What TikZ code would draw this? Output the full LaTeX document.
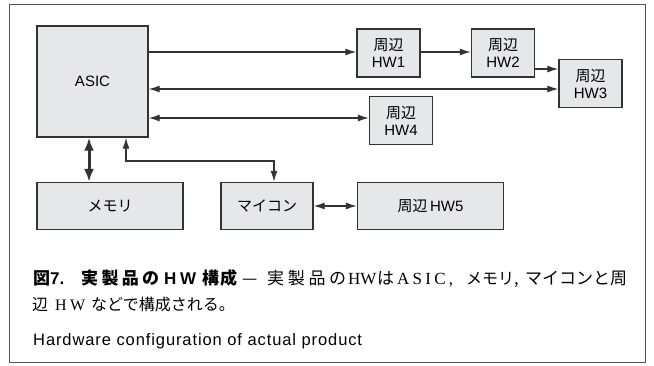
\documentclass[tikz,border=0pt]{standalone}
\usepackage{fontspec}
\setmainfont{Liberation Sans}
\setsansfont{Liberation Sans}
\newfontfamily\jp{Noto Sans CJK JP}
\newfontfamily\lserif{Liberation Serif}
\newfontfamily\engcap[LetterSpace=5.5]{Liberation Sans}
\usetikzlibrary{arrows.meta}
\definecolor{boxfill}{HTML}{E6E7E8}
\definecolor{boxline}{HTML}{333333}
\definecolor{framecol}{HTML}{555555}
\newcommand{\spr}[2]{\makebox[#1pt][s]{#2}}
\begin{document}
\begin{tikzpicture}[x=1pt,y=-1pt,
  blk/.style={draw=boxline,fill=boxfill,line width=1.3pt,inner sep=0pt,align=center,
    font=\fontsize{15}{17}\selectfont},
  conn/.style={draw=boxline,line width=1.2pt},
  tip/.style={-{Latex[length=11pt,width=7pt]}},
  tips/.style={{Latex[length=11pt,width=7pt]}-{Latex[length=11pt,width=7pt]}},
  capseg/.style={anchor=base west,inner sep=0pt,font=\fontsize{17}{19}\selectfont},
  capsegb/.style={anchor=base west,inner sep=0pt,font=\fontsize{16}{18}\selectfont}]
\useasboundingbox (0,0) rectangle (654,365);
\draw[draw=framecol,line width=1pt] (9,4) rectangle (645,362);
% boxes
\node[blk,minimum width=111pt,minimum height=111pt] (asic) at (92.5,81.5) {ASIC};
\node[blk,minimum width=63pt,minimum height=48pt] (hw1) at (388.5,53) {{\jp 周辺}\\HW1};
\node[blk,minimum width=63pt,minimum height=48pt] (hw2) at (503,53) {{\jp 周辺}\\HW2};
\node[blk,minimum width=63pt,minimum height=48pt] (hw3) at (590.5,83.5) {{\jp 周辺}\\HW3};
\node[blk,minimum width=63pt,minimum height=48pt] (hw4) at (401,120.5) {{\jp 周辺}\\HW4};
\node[blk,minimum width=146pt,minimum height=47pt] (mem) at (110,206) {\jp メモリ};
\node[blk,minimum width=92pt,minimum height=47pt] (mic) at (267,206) {\jp マイコン};
\node[blk,minimum width=146pt,minimum height=47pt] (hw5) at (430.5,206) {{\jp 周辺}\,HW5};
% connectors
\coordinate (a1) at (asic.east |- 0,52);
\coordinate (a2) at (asic.east |- 0,89);
\coordinate (a3) at (asic.east |- 0,118);
\draw[conn,tip] (a1) -- (a1 -| hw1.west);
\draw[conn,tip] (hw1.east |- 0,52) -- (hw2.west |- 0,52);
\draw[conn,tip] (hw2.east |- 0,69) -- (hw3.west |- 0,69);
\draw[conn,tips] (a2) -- (a2 -| hw3.west);
\draw[conn,tips] (a3) -- (a3 -| hw4.west);
\coordinate (a4) at (asic.south -| 126,0);
\coordinate (a5) at (asic.south -| 89,0);
\coordinate (m4) at (mic.north -| 274,0);
\draw[conn,tips] (a4) -- (126,161) -- (274,161) -- (m4);
\draw[draw=boxline,line width=3pt,{Latex[length=13pt,width=10pt]}-{Latex[length=13pt,width=10pt]}] (a5) -- (a5 |- mem.north);
\draw[conn,tips] (mic.east) -- (hw5.west);
% caption line 1
\node[capseg] (c1) at (33,284) {\jp\bfseries 図};
\node[capseg] (c2) at (50,284) {\bfseries 7.};
\node[capseg] (c3) at (81,284) {\spr{78}{\jp\bfseries 実\hfill 製\hfill 品\hfill の}};
\node[capseg] (c4) at (164,284) {\spr{32}{\bfseries H\hfill W}};
\node[capseg] (c5) at (202,284) {\spr{35}{\jp\bfseries 構\hfill 成}};
\node[capseg] (c6) at (242,284) {\jp —};
\node[capseg] (c7) at (267,284) {\spr{79}{\jp 実\hfill 製\hfill 品\hfill の}};
\node[capseg] (c8) at (348,284) {\lserif HW};
\node[capseg] (c9) at (377,284) {\jp は};
\node[capseg] (c10) at (397,284) {\spr{56}{\lserif A\hfill S\hfill I\hfill C\hfill ,}};
\node[capsegb] (c11) at (466,284) {\jp メモリ,};
\node[capseg] (c12) at (525,284) {\jp マイコンと周};
% caption line 2
\node[capsegb] (d1) at (32,310) {\jp 辺};
\node[capsegb] (d2) at (55,310) {\spr{30}{\lserif H\hfill W}};
\node[capsegb] (d3) at (91,310) {\jp などで構成される。};
% English caption
\node[capsegb,font=\fontsize{16.5}{18}\selectfont] (cap3) at (33,345)
 {\engcap Hardware configuration of actual product};
\end{tikzpicture}
\end{document}
